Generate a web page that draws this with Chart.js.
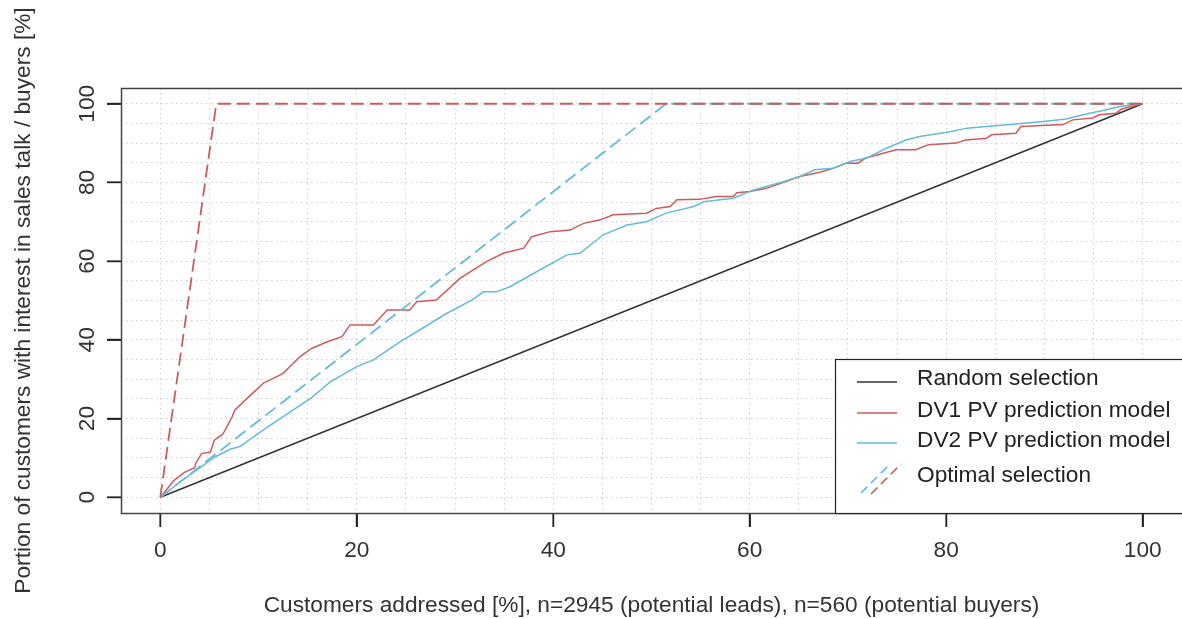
<!DOCTYPE html>
<html><head><meta charset="utf-8">
<script src="https://cdn.jsdelivr.net/npm/chart.js@4.4.1/dist/chart.umd.min.js"></script>
<style>html,body{margin:0;padding:0;background:#fff;overflow:hidden}canvas{display:block}</style>
</head><body>
<canvas id="c" width="1182" height="619"></canvas>
<script>
// ---------------- data ----------------
const xTitle = 'Customers addressed [%], n=2945 (potential leads), n=560 (potential buyers)';
const yTitle = 'Portion of customers with interest in sales talk / buyers [%]';
const xTicks = [0, 20, 40, 60, 80, 100];
const yTicks = [0, 20, 40, 60, 80, 100];
const gridValues = [0,5,10,15,20,25,30,35,40,45,50,55,60,65,70,75,80,85,90,95,100];
const seriesNames = ['Random selection', 'DV1 PV prediction model', 'DV2 PV prediction model', 'Optimal selection'];

const randomX = [0, 100];
const randomY = [0, 100];

const dv1X = [0,0.3,1.4,2.5,3.5,3.6,4.2,5.1,5.5,6.3,6.5,7.3,7.6,9.0,10.5,11.5,12.5,14.2,15.4,17,18.5,19.3,21.7,23.1,25.4,26.1,28.1,30.5,33.2,34.9,37,37.8,39.7,41.7,43.1,44.8,46.1,49.5,50.5,51.9,52.6,54.9,56.6,58.3,58.7,60,61.7,65.1,67,68.5,69.8,71,71.8,73.6,74.9,76.9,78.2,81,82,84.1,84.6,87.1,87.6,91.9,92.9,94.9,95.6,97.3,97.8,99,100];
const dv1Y = [0,0.9,4.3,6.4,7.5,8.6,11.1,11.5,14.5,15.9,16.6,20.4,22.2,25.5,29,30.2,31.5,35.7,37.8,39.5,40.8,43.8,43.8,47.6,47.6,49.7,50.1,55.6,59.9,62,63.3,66.2,67.5,67.9,69.6,70.5,71.8,72.2,73.4,73.9,75.6,75.7,76.4,76.4,77.4,77.7,78.5,81.5,82.5,83.6,84.9,84.9,86.2,87.4,88.3,88.3,89.6,90,90.8,91.2,92.1,92.5,94.2,94.7,95.9,96.4,97.2,97.6,98.6,99.4,100];

const dv2X = [0,2.5,5.6,7.1,8.1,10.2,12.2,15.3,17.3,20,21.7,24.4,26.4,29,31.7,32.9,34.2,35.6,38.3,41.4,42.7,45.1,47.5,49.5,51.5,54.3,55.3,58.3,60.4,63.4,65.1,66.6,68.5,70.2,71.9,73.9,75.9,77.3,80.4,82.1,84.1,86.8,89.9,92.2,94.6,96.3,97.7,100];
const dv2Y = [0,4.8,10.3,12.2,12.9,16.6,20,25.1,29.3,33.2,34.9,39.5,42.5,46.5,50.1,52.2,52.2,53.5,57.3,61.6,62,66.7,69.2,70,72.2,73.9,75.1,76,78.1,80.2,81.5,83.2,83.6,85.3,86.2,88.7,90.8,91.7,92.9,93.8,94.2,94.8,95.5,96.1,97.6,98.5,99.3,100];

const optDv1X = [0, 5.7, 100];
const optDv1Y = [0, 100, 100];
const optDv2X = [0, 51.5, 100];
const optDv2Y = [0, 100, 100];

// ---------------- style ----------------
const FONT = "'Liberation Sans', Arial, sans-serif";
const FS = 22.7;
const RED = '#d05a5a';
const BLUE = '#62bcd8';
const BLACK = '#333333';
const DASH = [13, 6];
const TICK_LEN = 14;

const pts = (xs, ys) => xs.map((x, i) => ({x, y: ys[i]}));
const isMajor = (ticks) => (c) => ticks.indexOf(gridValues[c.index]) >= 0;

const boxPlugin = {
  id: 'rBox',
  afterDraw(chart) {
    const {ctx, chartArea: a, scales} = chart;
    ctx.restore(); ctx.restore(); ctx.restore();
    ctx.save();
    ctx.setLineDash([]);
    // major tick marks (R style) through the library's scales
    ctx.fillStyle = '#222';
    xTicks.forEach(v => {
      const px = Math.round(scales.x.getPixelForValue(v));
      ctx.fillRect(px - 0.5, a.bottom, 1.4, TICK_LEN);
    });
    yTicks.forEach(v => {
      const py = Math.round(scales.y.getPixelForValue(v));
      ctx.fillRect(a.left - TICK_LEN, py - 0.5, TICK_LEN, 1.4);
    });
    // plot box
    ctx.strokeStyle = '#444';
    ctx.lineWidth = 1.5;
    ctx.strokeRect(a.left + 0.5, a.top + 0.5, a.right - a.left + 2, a.bottom - a.top);
    // legend
    const L = a.right - 347, T = a.bottom - 154;
    ctx.fillStyle = '#fff';
    ctx.fillRect(L, T, 400, 154);
    ctx.strokeStyle = '#222';
    ctx.lineWidth = 1.2;
    ctx.strokeRect(L + 0.5, T + 0.5, 400, 154);
    const ds = chart.data.datasets;
    const rows = [
      {y: 382, base: 385, color: ds[0].borderColor},
      {y: 413, base: 416.5, color: ds[1].borderColor},
      {y: 443, base: 447, color: ds[2].borderColor}
    ];
    ctx.font = FS + 'px ' + FONT;
    ctx.textBaseline = 'alphabetic';
    ctx.textAlign = 'left';
    rows.forEach((r, i) => {
      ctx.strokeStyle = r.color;
      ctx.lineWidth = 1.4;
      ctx.beginPath(); ctx.moveTo(L + 22, r.y); ctx.lineTo(L + 62, r.y); ctx.stroke();
      ctx.fillStyle = '#222';
      ctx.fillText(seriesNames[i], L + 82, r.base);
    });
    ctx.setLineDash([9, 5]);
    ctx.lineWidth = 1.6;
    ctx.strokeStyle = ds[3].borderColor;
    ctx.beginPath(); ctx.moveTo(L + 26, 493); ctx.lineTo(L + 55, 464); ctx.stroke();
    ctx.strokeStyle = ds[4].borderColor;
    ctx.beginPath(); ctx.moveTo(L + 36, 494); ctx.lineTo(L + 66, 464); ctx.stroke();
    ctx.setLineDash([]);
    ctx.fillStyle = '#222';
    ctx.fillText(seriesNames[3], L + 82, 482);
    ctx.restore();
  }
};

new Chart(document.getElementById('c'), {
  type: 'scatter',
  data: {
    datasets: [
      {label: seriesNames[0], data: pts(randomX, randomY), borderColor: BLACK, borderWidth: 1.5, order: 5},
      {label: seriesNames[1], data: pts(dv1X, dv1Y), borderColor: RED, borderWidth: 1.5, order: 4},
      {label: seriesNames[2], data: pts(dv2X, dv2Y), borderColor: BLUE, borderWidth: 1.5, order: 3},
      {label: seriesNames[3], data: pts(optDv2X, optDv2Y), borderColor: BLUE, borderWidth: 1.8, borderDash: DASH, order: 2},
      {label: seriesNames[3], data: pts(optDv1X, optDv1Y), borderColor: RED, borderWidth: 1.8, borderDash: DASH, order: 1}
    ].map(d => Object.assign(d, {showLine: true, pointRadius: 0, tension: 0, fill: false}))
  },
  options: {
    responsive: false,
    animation: false,
    devicePixelRatio: 1,
    layout: {padding: {top: 88, right: 0, left: 0, bottom: 0}},
    plugins: {legend: {display: false}, tooltip: {enabled: false}},
    scales: {
      x: {
        type: 'linear', min: -4, max: 104,
        afterBuildTicks: s => { s.ticks = gridValues.map(v => ({value: v})); },
        afterFit: s => { s.height = 106; },
        ticks: {autoSkip: false, minRotation: 0, maxRotation: 0, padding: 10, color: '#333',
          font: {size: FS, family: FONT}, callback: v => xTicks.includes(v) ? String(v) : ''},
        grid: {color: '#cfcfcf', lineWidth: 1, tickLength: TICK_LEN, tickWidth: 1.4,
          tickColor: c => isMajor(xTicks)(c) ? '#222' : 'rgba(0,0,0,0)'},
        border: {display: false, dash: [1.5, 3.5]},
        title: {display: true, text: xTitle, color: '#333', font: {size: FS, family: FONT}, padding: {top: 0, bottom: 0}}
      },
      y: {
        type: 'linear', min: -4, max: 104, position: 'left',
        afterBuildTicks: s => { s.ticks = gridValues.map(v => ({value: v})); },
        afterFit: s => { s.width = 121; },
        ticks: {autoSkip: false, minRotation: 90, maxRotation: 90, crossAlign: 'center', padding: 0, color: '#333',
          font: {size: FS, family: FONT}, callback: v => yTicks.includes(v) ? String(v) : ''},
        grid: {color: '#cfcfcf', lineWidth: 1, tickLength: TICK_LEN, tickWidth: 1.4,
          tickColor: c => isMajor(yTicks)(c) ? '#222' : 'rgba(0,0,0,0)'},
        border: {display: false, dash: [1.5, 3.5]},
        title: {display: true, text: yTitle, color: '#333', font: {size: FS, family: FONT}, padding: {top: 10, bottom: 0}}
      }
    }
  },
  plugins: [boxPlugin]
});
</script>
</body></html>
